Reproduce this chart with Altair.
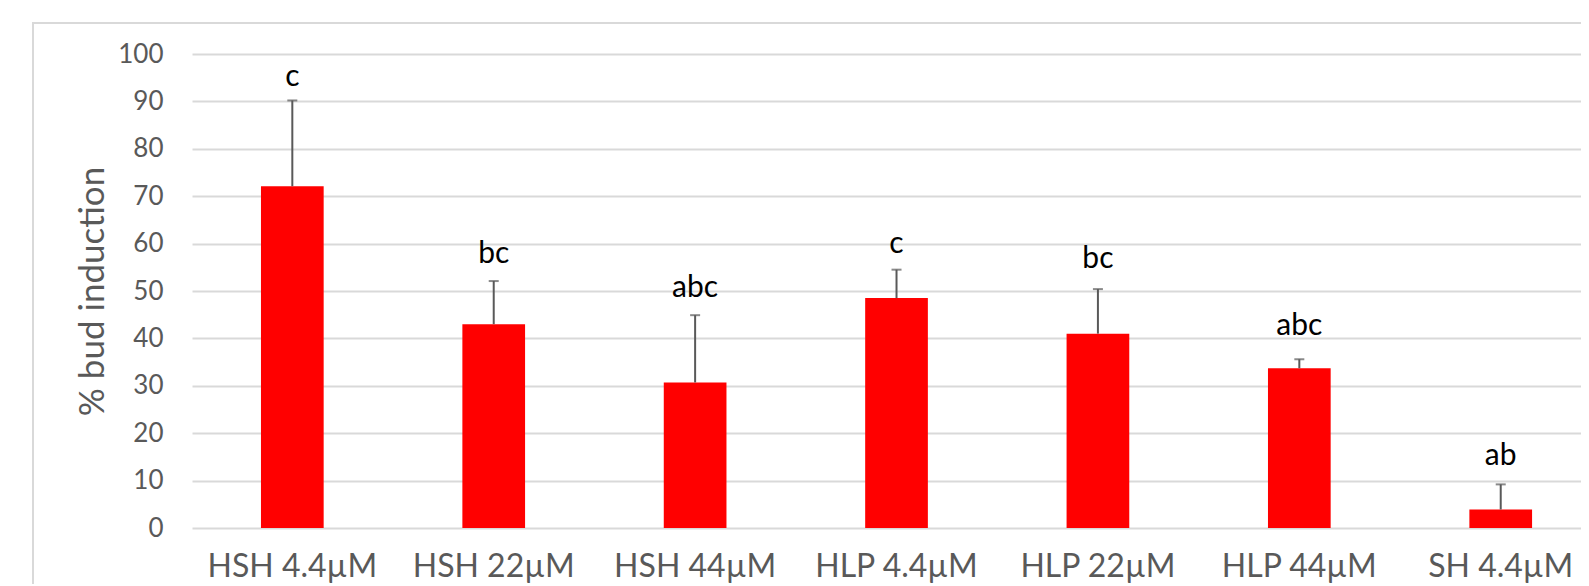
import altair as alt
import pandas as pd

categories = ["HSH 4.4µM", "HSH 22µM", "HSH 44µM", "HLP 4.4µM", "HLP 22µM", "HLP 44µM", "SH 4.4µM"]
means = [72.1, 43.0, 30.7, 48.5, 41.0, 33.7, 3.9]
errors = [18.1, 9.1, 14.2, 6.0, 9.4, 1.9, 5.3]
letters = ["c", "bc", "abc", "c", "bc", "abc", "ab"]
letter_y = [93.3, 56.0, 48.8, 58.0, 54.8, 40.7, 13.3]
y_ticks = [0, 10, 20, 30, 40, 50, 60, 70, 80, 90, 100]

df = pd.DataFrame({
    "cat": categories,
    "mean": means,
    "upper": [m + e for m, e in zip(means, errors)],
    "letter": letters,
    "ly": letter_y,
})

W, H = 1389, 474
FONT = "Lato"
GRAY = "#595959"

x_enc = alt.X(
    "cat:N", sort=categories, title=None,
    scale=alt.Scale(paddingInner=0.6887, paddingOuter=0.2927, align=0.585),
    axis=alt.Axis(labelAngle=0, ticks=False, tickSize=0, domain=False, grid=False,
                  labelFont=FONT, labelFontSize=32, labelColor=GRAY,
                  labelBaseline="alphabetic", labelPadding=48),
)
y_scale = alt.Scale(domain=[0, 100], nice=False)
y_axis = alt.Axis(values=y_ticks, ticks=False, tickSize=0, domain=False,
                  grid=True, gridColor="#D9D9D9", gridWidth=2,
                  labelFont=FONT, labelFontSize=26, labelColor=GRAY, labelPadding=29,
                  title="% bud induction", titleFont=FONT, titleFontSize=35,
                  titleColor=GRAY, titleFontWeight="normal", titleAngle=-90,
                  titleBaseline="alphabetic", titleAlign="center",
                  titleX=-89, titleY=237)

base = alt.Chart(df)

bars = base.mark_bar(color="#FF0000").encode(
    x=x_enc,
    y=alt.Y("mean:Q", scale=y_scale, axis=y_axis),
)

stems = base.mark_rule(color=GRAY, strokeWidth=2).encode(
    x=alt.X("cat:N", sort=categories),
    y="mean:Q",
    y2="upper:Q",
)

caps = base.mark_tick(color=GRAY, thickness=2, size=10, orient="horizontal").encode(
    x=alt.X("cat:N", sort=categories),
    y="upper:Q",
)

labels = base.mark_text(font=FONT, fontSize=30, color="#000000",
                        baseline="alphabetic", align="center").encode(
    x=alt.X("cat:N", sort=categories),
    y="ly:Q",
    text="letter:N",
)

frame = alt.Chart(pd.DataFrame({"k": [0]})).mark_rect(
    filled=False, stroke="#D9D9D9", strokeWidth=2
).encode(
    x=alt.value(-159), x2=alt.value(W + 300),
    y=alt.value(-31), y2=alt.value(H + 300),
)

chart = alt.layer(frame, bars, stems, caps, labels).properties(
    width=W, height=H,
    autosize=alt.AutoSizeParams(type="none"),
    padding={"left": 184, "top": 46, "right": 0, "bottom": 56},
    background="white",
).configure_view(strokeWidth=0)

chart.save("out.html", embed_options={"renderer": "svg", "actions": False})
